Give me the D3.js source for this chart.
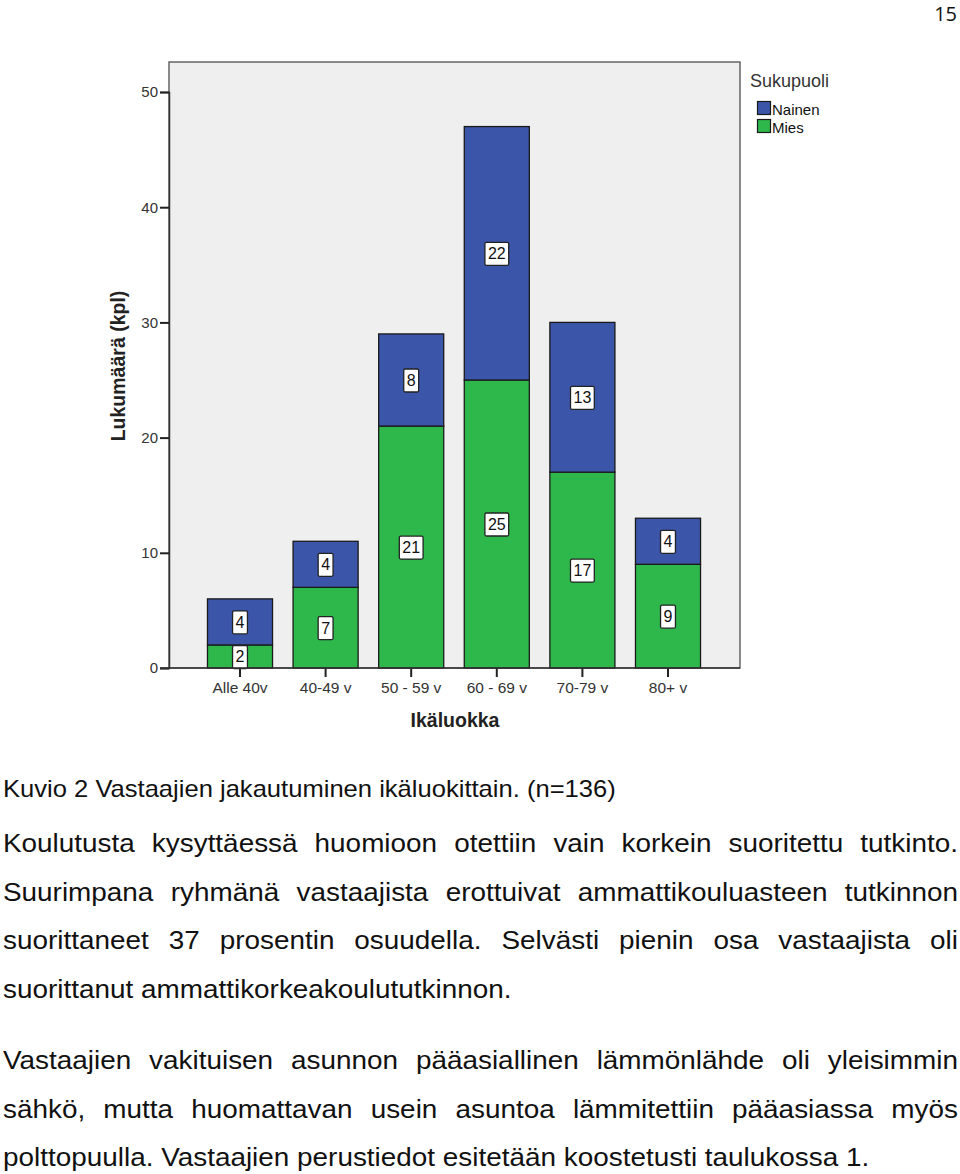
<!DOCTYPE html>
<html><head><meta charset="utf-8">
<script src="https://cdn.jsdelivr.net/npm/d3@7"></script>
<style>
html,body{margin:0;padding:0;background:#fff;}
svg{display:block;}
</style></head>
<body>
<svg id="c" width="960" height="1174"></svg>
<script>
const categories = ["Alle 40v", "40-49 v", "50 - 59 v", "60 - 69 v", "70-79 v", "80+ v"];
const mies = [2, 7, 21, 25, 17, 9];
const nainen = [4, 4, 8, 22, 13, 4];
const yTicks = [0, 10, 20, 30, 40, 50];
const seriesNames = ["Nainen", "Mies"];
const colors = {Nainen: "#3b55a8", Mies: "#2eb84b"};

const caption = "Kuvio 2 Vastaajien jakautuminen ikäluokittain. (n=136)";
const para1 = [
  "Koulutusta kysyttäessä huomioon otettiin vain korkein suoritettu tutkinto.",
  "Suurimpana ryhmänä vastaajista erottuivat ammattikouluasteen tutkinnon",
  "suorittaneet 37 prosentin osuudella. Selvästi pienin osa vastaajista oli",
  "suorittanut ammattikorkeakoulututkinnon."
];
const para2 = [
  "Vastaajien vakituisen asunnon pääasiallinen lämmönlähde oli yleisimmin",
  "sähkö, mutta huomattavan usein asuntoa lämmitettiin pääasiassa myös",
  "polttopuulla. Vastaajien perustiedot esitetään koostetusti taulukossa 1."
];

const svg = d3.select("#c");
const font = "'Liberation Sans', Arial, sans-serif";

// page number
svg.append("text").attr("x", 957).attr("y", 21).attr("text-anchor", "end")
  .attr("font-family", "'Open Sans', 'DejaVu Sans', sans-serif").attr("font-size", 20).attr("fill", "#111").text("15");

const L = 169, R = 740, T = 62, B = 668;
const y = d3.scaleLinear().domain([0, 50]).range([B, 92]);
const x = d3.scaleBand().domain(categories).range([197.2, 710.8]).paddingInner(0.24).paddingOuter(0.12);

// plot background
svg.append("rect").attr("x", L).attr("y", T).attr("width", R - L).attr("height", B - T)
  .attr("fill", "#efefef").attr("stroke", "#666").attr("stroke-width", 1.5);

// stacked data
const data = categories.map((c, i) => ({cat: c, Mies: mies[i], Nainen: nainen[i]}));
const stack = d3.stack().keys(["Mies", "Nainen"])(data);

const g = svg.append("g");
stack.forEach(layer => {
  g.selectAll(null).data(layer).enter().append("rect")
    .attr("x", d => x(d.data.cat))
    .attr("y", d => y(d[1]))
    .attr("width", x.bandwidth())
    .attr("height", d => y(d[0]) - y(d[1]))
    .attr("fill", colors[layer.key])
    .attr("stroke", "#1a1a1a").attr("stroke-width", 1.3);
});

// value labels
stack.forEach(layer => {
  layer.forEach(d => {
    const cx = x(d.data.cat) + x.bandwidth() / 2;
    const cy = y((d[0] + d[1]) / 2);
    const lg = g.append("g");
    const t = lg.append("text").attr("x", cx).attr("y", cy + 6).attr("text-anchor", "middle")
      .attr("font-family", font).attr("font-size", 16).attr("fill", "#111")
      .text(d.data[layer.key]);
    const w = t.node().getComputedTextLength();
    lg.insert("rect", "text").attr("x", cx - w / 2 - 3).attr("y", cy - 11)
      .attr("width", w + 6).attr("height", 23).attr("rx", 1.5)
      .attr("fill", "#fff").attr("stroke", "#222").attr("stroke-width", 1.3);
  });
});

// y axis
const yAxis = svg.append("g").attr("transform", `translate(${L},0)`)
  .call(d3.axisLeft(y).tickValues(yTicks).tickSize(9).tickPadding(2));
yAxis.select(".domain").attr("stroke", "#333").attr("stroke-width", 1.5);
yAxis.selectAll(".tick line").attr("stroke", "#222").attr("stroke-width", 2);
yAxis.selectAll(".tick text").attr("font-family", font).attr("font-size", 15).attr("fill", "#333");

// x axis
const xAxis = svg.append("g").attr("transform", `translate(0,${B})`)
  .call(d3.axisBottom(x).tickSize(9).tickPadding(5));
xAxis.select(".domain").remove();
svg.append("line").attr("x1", L - 9).attr("x2", R).attr("y1", B).attr("y2", B).attr("stroke", "#333").attr("stroke-width", 1.5);
xAxis.selectAll(".tick line").attr("stroke", "#222").attr("stroke-width", 2);
xAxis.selectAll(".tick text").attr("font-family", font).attr("font-size", 15.5).attr("fill", "#333");

// axis titles
svg.append("text").attr("transform", "translate(125,366) rotate(-90)").attr("text-anchor", "middle")
  .attr("font-family", font).attr("font-weight", "bold").attr("font-size", 19.5).attr("fill", "#222")
  .text("Lukumäärä (kpl)");
svg.append("text").attr("x", 455).attr("y", 727).attr("text-anchor", "middle")
  .attr("font-family", font).attr("font-weight", "bold").attr("font-size", 19.5).attr("fill", "#222")
  .text("Ikäluokka");

// legend
const leg = svg.append("g");
leg.append("text").attr("x", 750).attr("y", 87).attr("font-family", font).attr("font-size", 18).attr("fill", "#333").text("Sukupuoli");
seriesNames.forEach((s, i) => {
  leg.append("rect").attr("x", 757.5).attr("y", 101.5 + i * 18).attr("width", 13).attr("height", 13)
    .attr("fill", colors[s]).attr("stroke", "#1a1a1a").attr("stroke-width", 1.2);
  leg.append("text").attr("x", 772).attr("y", 114.5 + i * 18).attr("font-family", font).attr("font-size", 15).attr("fill", "#111").text(s);
});

// body text (horizontally stretched to match the reference typeface width)
const left = 3, right = 958;
function makeBody(fontSize, sx) {
  const grp = svg.append("g").attr("transform", `translate(${left},0) scale(${sx},1)`);
  const innerW = (right - left) / sx;
  return {
    line(str, yb) {
      grp.append("text").attr("x", 0).attr("y", yb).attr("font-family", font).attr("font-size", fontSize).attr("fill", "#111").text(str);
    },
    justified(str, yb) {
      const words = str.split(" ");
      const tmp = words.map(w => grp.append("text").attr("font-family", font).attr("font-size", fontSize).attr("fill", "#111").attr("y", yb).text(w));
      const widths = tmp.map(t => t.node().getComputedTextLength());
      const gap = (innerW - d3.sum(widths)) / (words.length - 1);
      let cx = 0;
      tmp.forEach((t, i) => { t.attr("x", cx); cx += widths[i] + gap; });
    }
  };
}
const capBody = makeBody(23, 1.112);
capBody.line(caption, 797);
const paraBody = makeBody(25.5, 1.094);
const lh = 48.6;
para1.forEach((s, i) => {
  if (i < para1.length - 1) paraBody.justified(s, 852 + i * lh); else paraBody.line(s, 852 + i * lh);
});
para2.forEach((s, i) => {
  if (i < para2.length - 1) paraBody.justified(s, 1069 + i * lh); else paraBody.line(s, 1069 + i * lh);
});
</script>
</body></html>
